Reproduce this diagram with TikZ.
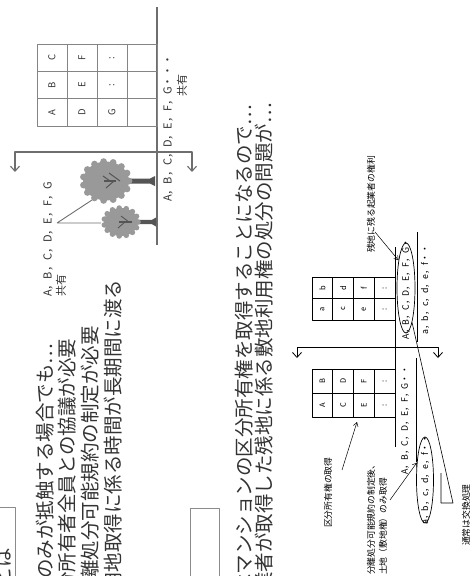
\documentclass[tikz,border=0pt]{standalone}
\usepackage{fontspec}
\setmainfont{Noto Sans CJK JP}
\usetikzlibrary{arrows.meta,calc,positioning,shapes.geometric}

\definecolor{ink}{HTML}{333333}
\definecolor{rule}{HTML}{6E6E6E}
\definecolor{leaf}{HTML}{999999}
\definecolor{bark}{HTML}{555555}

\tikzset{
  vtxt/.style={rotate=90,inner sep=0pt,text=ink},
  bigline/.style={vtxt,anchor=west,font=\fontsize{19.5}{20}\selectfont},
  owners/.style={vtxt,font=\fontsize{11}{12}\selectfont},
  lbl/.style={vtxt,text=black,font=\fontsize{8.8}{10}\selectfont},
  cellA/.style={vtxt,font=\fontsize{9.5}{10}\selectfont},
  cellB/.style={vtxt,text=black,font=\fontsize{7.5}{8}\selectfont},
  fence/.style={draw=rule,line width=1.1pt},
  grid/.style={draw=rule!85,line width=0.9pt},
  thinline/.style={draw=black,line width=0.6pt},
  pointer/.style={draw=black,line width=0.5pt,-{Straight Barb[length=4pt,width=5pt]}},
  shiftarrows/.style={{Straight Barb[length=5pt,width=9pt]}-{Straight Barb[length=5pt,width=9pt]}},
}

\begin{document}
\begin{tikzpicture}[x=1pt,y=-1pt,line join=round]
\useasboundingbox (0,0) rectangle (470,576);
\clip (0,0) rectangle (470,576);

% running text, set along the long side
\node[bigline] (l1) at (45,579) {のみが抵触する場合でも…};
\node[bigline] (l2) at (67,592) {分所有者全員との協議が必要};
\node[bigline] (l3) at (90,580) {離処分可能規約の制定が必要};
\node[bigline] (l4) at (113,592) {用地取得に係る時間が長期間に渡る};
\node[bigline] (r1) at (244,594) {はマンションの区分所有権を取得することになるので…};
\node[bigline] (r2) at (264,592) {業者が取得した残地に係る敷地利用権の処分の問題が…};

% heading boxes
\draw[draw=rule!80,line width=0.9pt] (-10,507) -- (15,507) -- (15,590);
\node[bigline] (hd) at (3,587) {とは};
\draw[draw=rule!80,line width=0.9pt] (190,590) -- (190,508) -- (219,508) -- (219,590);

%% first case: building on shared land
\draw[fence] (157,7) -- (157,245);
\draw[grid] (37,44) rectangle (157,126);
\foreach \x in {67,97,127} \draw[grid] (\x,44) -- (\x,126);
\foreach \y in {71.3,98.7} \draw[grid] (37,\y) -- (157,\y);
\foreach \t/\i/\k in {A/0/0,B/0/1,C/0/2,D/1/0,E/1/1,F/1/2,G/2/0,:/2/1,:/2/2}
  \node[cellA] (c\i\k) at (52+30*\i,112.5-27.4*\k) {\t};

\node[owners,anchor=west] (own1) at (168,202) {A，B，C，D，E，F，G・・・};
\node[owners] (own1b) at (182,85) {共有};

% trees
\coordinate (treeBig) at (106,181);
\coordinate (treeSmall) at (121,222);
\fill[bark] (116,178.5) -- (150,178.5) -- (155,176) -- (155,186) -- (150,183.5) -- (116,183.5) -- cycle;
\fill[bark] (132,219.8) -- (152,219.8) -- (156,217.5) -- (156,226.5) -- (152,224.2) -- (132,224.2) -- cycle;
\fill[leaf] (treeBig) ellipse [x radius=23pt,y radius=19.5pt];
\foreach \a in {0,24,...,336} \fill[leaf] ($(treeBig)+(\a:23pt and 19.5pt)$) circle (3.4pt);
\fill[leaf] (treeSmall) ellipse [x radius=17pt,y radius=14pt];
\foreach \a in {0,24,...,336} \fill[leaf] ($(treeSmall)+(\a:17pt and 14pt)$) circle (2.8pt);
\draw[bark,line width=1.6pt] (116,181) -- (104,181);
\draw[bark,line width=1pt] (120,181) -- (109,173) (114,181) -- (106,188) (110,181) -- (103,176);
\draw[bark,line width=1.4pt] (132,222) -- (119,222);
\draw[bark,line width=0.9pt] (129,222) -- (121,216) (125,222) -- (118,228);

\node[owners,anchor=west] (own2) at (48,297) {A，B，C，D，E，F，G};
\node[owners,anchor=west] (own2b) at (61,297) {共有};
\coordinate (treeJoin) at (57,223);
\draw[draw=rule,line width=0.9pt] (treeJoin) -- (92,200) (treeJoin) -- (101,223);

\draw[fence,shiftarrows] (15,172) -- (15,152) -- (192,152) -- (192,172);

%% second case: sections bought, land left over
\draw[thinline,line width=0.9pt] (395,247) -- (395,447);
\draw[thinline,line width=0.8pt] (312,369) rectangle (395,417) (312,277) rectangle (395,320);
\foreach \x in {332.75,353.5,374.25} \draw[thinline,line width=0.8pt] (\x,369) -- (\x,417) (\x,277) -- (\x,320);
\draw[thinline,line width=0.8pt] (312,393) -- (395,393) (312,298.5) -- (395,298.5);
\foreach \t/\u/\i in {A/B/0,C/D/1,E/F/2,:/:/3} {
  \node[cellB] (s\i a) at (322.4+20.75*\i,405) {\t};
  \node[cellB] (s\i b) at (322.4+20.75*\i,381) {\u};
}
\foreach \t/\u/\i in {a/b/0,c/d/1,e/f/2,:/:/3} {
  \node[cellB] (t\i a) at (322.4+20.75*\i,309) {\t};
  \node[cellB] (t\i b) at (322.4+20.75*\i,288) {\u};
}

\draw[thinline,line width=0.8pt,shiftarrows] (297,358) -- (297,347) -- (438,347) -- (438,358);

\node[lbl,anchor=west] (ownL) at (405,475) {A，B，C，D，E，F，G・・};
\draw[thinline] (416,358) -- (416,462);
\node[draw,ellipse,line width=0.7pt,minimum width=17pt,minimum height=86pt,inner sep=0pt] (ovalLow) at (425,480) {};
\node[lbl] (landL) at (425,480) {a，b，c，d，e，f・・};

\node[draw,ellipse,line width=0.7pt,minimum width=18pt,minimum height=90pt,inner sep=0pt] (ovalUp) at (406,288) {};
\node[lbl] (ownR) at (406,289) {A，B，C，D，E，F，G・};
\draw[thinline] (417,232) -- (417,342);
\node[lbl] (landR) at (425,290) {a，b，c，d，e，f・・};

% notes
\node[lbl,anchor=west] (nSect) at (328,528) {区分所有権の取得};
\coordinate (fromSect) at (342,470);
\coordinate (tipSect) at (357,422);
\draw[pointer] (fromSect) -- (tipSect);

\node[lbl,anchor=west] (nSplit1) at (371,575) {分離処分可能規約の制定後、};
\node[lbl,anchor=west] (nSplit2) at (383,575) {土地（敷地権）のみ取得};
\coordinate (fromSplit) at (390,500);
\draw[pointer] (fromSplit) -- (ovalLow.115);

\node[lbl,anchor=west] (nRest) at (371,253) {残地に残る起業者の権利};
\coordinate (fromRest) at (375,232);
\draw[pointer] (fromRest) -- (ovalUp.105);

\node[lbl] (nSwap) at (466,515) {通常は交換処理};
\coordinate (swapJoin) at (453,503);
\draw[thinline] (ovalUp.-80) -- (swapJoin) -- (441,503) -- (441,473);
\end{tikzpicture}
\end{document}
